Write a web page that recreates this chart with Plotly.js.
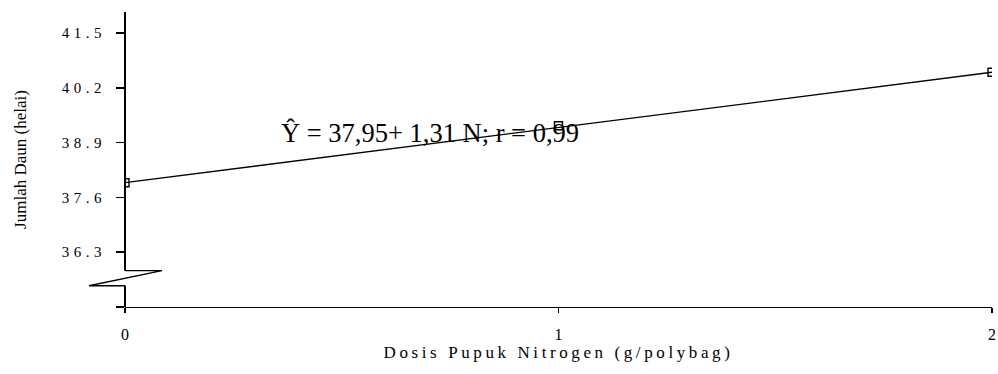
<!DOCTYPE html>
<html>
<head>
<meta charset="utf-8">
<script src="https://cdn.plot.ly/plotly-3.0.1.min.js"></script>
<style>
  html, body { margin: 0; padding: 0; background: #fff; }
  .ytick text { letter-spacing: 4.5px; }
  .xtitle { letter-spacing: 3.6px; }
</style>
</head>
<body>
<div id="chart" style="width:998px;height:374px;"></div>
<script>
// Data
const doses = [0, 1, 2];                       // Dosis Pupuk Nitrogen (g/polybag)
const leafCount = [37.95, 39.30, 40.57];       // Jumlah Daun (helai), observed points
const fitDoses = [0, 2];                       // regression line end points
const fitLeafCount = [37.95, 40.57];           // Ŷ = 37,95 + 1,31 N
const yTickVals = [35, 36.3, 37.6, 38.9, 40.2, 41.5];
const yTickText = ['', '36.3', '37.6', '38.9', '40.2', '41.5'];
const xTickVals = [0, 1, 2];
const xTickText = ['0', '1', '2'];
const equationText = 'Ŷ = 37,95+ 1,31 N; r = 0,99';

const serif = 'Liberation Serif';

const traces = [
  {
    x: fitDoses, y: fitLeafCount, type: 'scatter', mode: 'lines',
    line: {color: '#000', width: 1.3}, hoverinfo: 'skip', showlegend: false
  },
  {
    x: doses, y: leafCount, type: 'scatter', mode: 'markers',
    marker: {symbol: 'square-open', size: 8, color: '#000', line: {color: '#000', width: 1.4}},
    showlegend: false
  }
];

// axis break drawn in paper coordinates
const brkTop = 0.123, brkBot = 0.072;
const layout = {
  width: 998, height: 374,
  margin: {l: 125, r: 6, t: 12, b: 67, pad: 0},
  paper_bgcolor: '#fff', plot_bgcolor: '#fff',
  showlegend: false,
  xaxis: {
    range: [0, 2], tickmode: 'array', tickvals: xTickVals, ticktext: xTickText,
    ticks: 'outside', ticklen: 5, tickwidth: 1.3, tickcolor: '#000',
    showline: true, linecolor: '#000', linewidth: 1.3,
    showgrid: false, zeroline: false,
    tickfont: {family: serif, size: 16, color: '#000'},
    ticklabelstandoff: 7,
    title: {text: 'Dosis Pupuk Nitrogen (g/polybag)', font: {family: serif, size: 17, color: '#000'}, standoff: 4}
  },
  yaxis: {
    range: [35, 42], tickmode: 'array', tickvals: yTickVals, ticktext: yTickText,
    ticks: 'outside', ticklen: 8, tickwidth: 1.5, tickcolor: '#000',
    showline: false, showgrid: false, zeroline: false,
    tickfont: {family: serif, size: 15, color: '#000'},
    ticklabelstandoff: 7,
    title: {text: 'Jumlah Daun (helai)', font: {family: serif, size: 17, color: '#000'}, standoff: 30}
  },
  shapes: [
    {type: 'line', xref: 'paper', yref: 'paper', x0: 0, x1: 0, y0: brkTop, y1: 1, line: {color: '#000', width: 2}},
    {type: 'line', xref: 'paper', yref: 'paper', x0: 0, x1: 0, y0: 0, y1: brkBot, line: {color: '#000', width: 2}},
    {type: 'path', xref: 'paper', yref: 'paper',
     path: 'M 0 ' + brkTop + ' L 0.0427 ' + brkTop + ' L -0.0415 ' + brkBot + ' L 0 ' + brkBot,
     line: {color: '#000', width: 1.3}}
  ],
  annotations: [
    {x: 0.3645, y: 39.14, xref: 'x', yref: 'y', xanchor: 'left', yanchor: 'middle',
     xshift: -4, text: equationText, showarrow: false,
     font: {family: serif, size: 26.5, color: '#000'}}
  ]
};

Plotly.newPlot('chart', traces, layout, {displayModeBar: false, staticPlot: true});
</script>
</body>
</html>
